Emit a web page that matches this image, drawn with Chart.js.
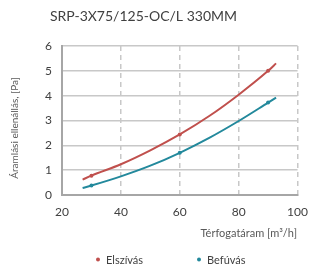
<!DOCTYPE html>
<html lang="hu">
<head>
  <meta charset="UTF-8">
  <title>SRP-3X75/125-OC/L 330MM</title>
  <script src="https://cdn.jsdelivr.net/npm/chart.js"></script>
  <style>
    html,body{margin:0;padding:0;background:#fff;}
    #wrap{width:318px;height:269px;position:relative;}
  </style>
</head>
<body>
  <div id="wrap"><canvas id="chart"></canvas></div>

  <script>
    /* ——— DATA ——— */
    const chartTitle = 'SRP-3X75/125-OC/L 330MM';
    const xTitle = 'Térfogatáram [m³/h]';
    const yTitle = 'Áramlási ellenállás, [Pa]';
    const seriesNames = ['Elszívás', 'Befúvás'];

    const airflow   = [27, 30, 40, 50, 60, 70, 80, 90, 92.7];
    const elszivas  = [0.62, 0.78, 1.24, 1.80, 2.44, 3.18, 4.04, 5.0, 5.3];
    const befuvas   = [0.28, 0.38, 0.75, 1.18, 1.70, 2.30, 2.98, 3.72, 3.92];
    const markerAt  = [30, 60, 90];

    const xTicks = [20, 40, 60, 80, 100];
    const yTicks = [0, 1, 2, 3, 4, 5, 6];

    /* ——— STYLE ——— */
    const RED = '#c0504d', TEAL = '#23899c';
    const FONT = 'Lato, "Open Sans", sans-serif';

    const pts = vals => airflow.map((x, i) => ({x, y: vals[i]}));
    const radius = c => markerAt.includes(c.raw && c.raw.x) ? 2 : 0;

    // text that is not part of the scales: title, axis captions, legend
    const labels = {
      id: 'labels',
      afterDraw(chart) {
        const ctx = chart.ctx;
        ctx.save();
        ctx.textBaseline = 'middle';
        ctx.textAlign = 'left';

        ctx.fillStyle = '#404040';
        ctx.font = '14px ' + FONT;
        ctx.fillText(chartTitle, 50, 16);

        ctx.fillStyle = '#595959';
        ctx.font = '11px ' + FONT;
        ctx.textAlign = 'right';
        ctx.fillText(xTitle, 297, 233);

        ctx.save();
        ctx.translate(15, 128);
        ctx.rotate(-Math.PI / 2);
        ctx.textAlign = 'center';
        ctx.font = '10px ' + FONT;
        ctx.fillText(yTitle, 0, 0);
        ctx.restore();

        // legend
        const items = [[98, RED], [199, TEAL]];
        ctx.textAlign = 'left';
        ctx.font = '11px ' + FONT;
        items.forEach(([x, col], i) => {
          ctx.fillStyle = col;
          ctx.beginPath();
          ctx.arc(x, 259.5, 2, 0, Math.PI * 2);
          ctx.fill();
          ctx.fillStyle = '#404040';
          ctx.fillText(seriesNames[i], x + 8, 260);
        });
        ctx.restore();
      }
    };

    new Chart(document.getElementById('chart'), {
      type: 'line',
      data: {
        datasets: [
          {label: seriesNames[0], data: pts(elszivas), borderColor: RED, backgroundColor: RED},
          {label: seriesNames[1], data: pts(befuvas), borderColor: TEAL, backgroundColor: TEAL}
        ]
      },
      options: {
        responsive: true,
        maintainAspectRatio: false,
        animation: false,
        layout: {padding: {top: 46, right: 11, left: 0, bottom: 0}},
        elements: {
          line: {borderWidth: 2, tension: 0.4, cubicInterpolationMode: 'monotone'},
          point: {radius: radius, hoverRadius: radius, borderWidth: 0}
        },
        plugins: {legend: {display: false}, tooltip: {enabled: false}, title: {display: false}},
        scales: {
          x: {
            type: 'linear', min: 20, max: 100,
            afterBuildTicks: s => { s.ticks = xTicks.map(v => ({value: v})); },
            afterFit: s => { s.height = 74; },
            ticks: {color: '#404040', font: {family: FONT, size: 12}, padding: 10, maxRotation: 0},
            grid: {color: '#c8c8c8', lineWidth: 1.5, drawTicks: false},
            border: {color: '#a6a6a6', width: 2, dash: [5, 4]}
          },
          y: {
            min: 0, max: 6,
            afterBuildTicks: s => { s.ticks = yTicks.map(v => ({value: v})); },
            afterFit: s => { s.width = 62; },
            ticks: {color: '#404040', font: {family: FONT, size: 12}, padding: 10},
            grid: {color: '#c8c8c8', lineWidth: 1.5, drawTicks: false},
            border: {color: '#a6a6a6', width: 2}
          }
        }
      },
      plugins: [labels]
    });
  </script>
</body>
</html>
